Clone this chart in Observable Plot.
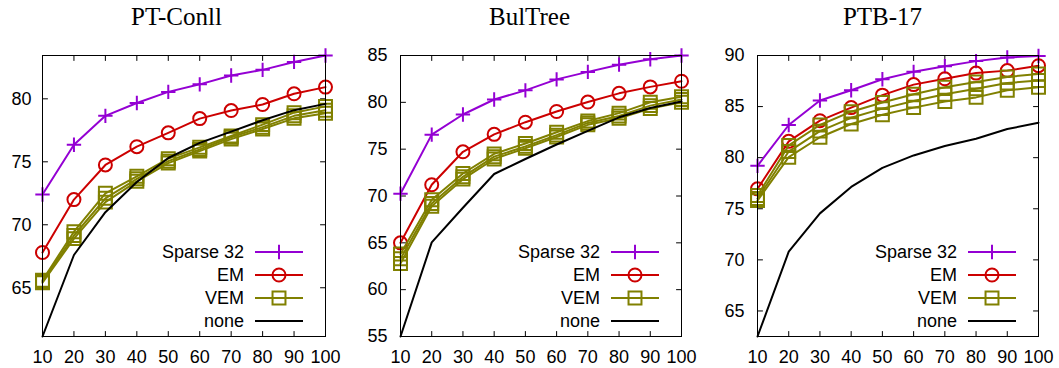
<!DOCTYPE html>
<html><head><meta charset="utf-8">
<script src="https://cdn.jsdelivr.net/npm/d3@7"></script>
<script src="https://cdn.jsdelivr.net/npm/@observablehq/plot@0.6"></script>
<style>
body{margin:0;background:#fff;}
#chart{position:relative;width:1059px;height:368px;overflow:hidden;background:#fff;}
.panel{position:absolute;top:0;width:353px;height:368px;}
.title{position:absolute;top:4px;left:0;width:100%;text-align:center;font-family:"Liberation Serif","Times New Roman",serif;font-size:25px;line-height:25px;color:#000;}
.panel svg{position:absolute;top:40px;left:0;}
</style></head><body><div id="chart"></div>
<script>
// ---- data ----
const xs = [10, 20, 30, 40, 50, 60, 70, 80, 90, 100];
const xTicks = [10, 20, 30, 40, 50, 60, 70, 80, 90, 100];
const seriesNames = ["Sparse 32", "EM", "VEM", "none"];
const titles = ["PT-Conll", "BulTree", "PTB-17"];

// PT-Conll
const ptconllSparse = [72.4, 76.35, 78.65, 79.67, 80.55, 81.15, 81.85, 82.3, 82.93, 83.44];
const ptconllEM     = [67.8, 72.0, 74.75, 76.2, 77.3, 78.43, 79.07, 79.55, 80.4, 80.93];
const ptconllVEM1   = [65.6, 69.45, 72.5, 73.85, 75.25, 76.15, 77.05, 77.95, 78.9, 79.4];
const ptconllVEM2   = [65.5, 69.15, 72.1, 73.65, 75.05, 75.98, 76.95, 77.75, 78.65, 79.1];
const ptconllVEM3   = [65.4, 68.9, 71.8, 73.45, 74.9, 75.85, 76.8, 77.6, 78.45, 78.85];
const ptconllNone   = [61.13, 67.6, 71.0, 73.4, 75.3, 76.5, 77.4, 78.3, 79.1, 79.6];
const ptconllYTicks = [65, 70, 75, 80];
const ptconllYDomain = [61.13, 83.44];

// BulTree
const bultreeSparse = [70.25, 76.55, 78.7, 80.3, 81.28, 82.45, 83.25, 84.02, 84.6, 85.0];
const bultreeEM     = [65.0, 71.2, 74.72, 76.58, 77.88, 79.02, 80.03, 80.96, 81.65, 82.25];
const bultreeVEM1   = [63.8, 69.6, 72.4, 74.5, 75.6, 76.8, 78.0, 78.85, 80.0, 80.6];
const bultreeVEM2   = [63.3, 69.2, 72.05, 74.2, 75.3, 76.5, 77.8, 78.55, 79.65, 80.3];
const bultreeVEM3   = [62.8, 68.9, 71.8, 73.95, 75.1, 76.3, 77.6, 78.3, 79.35, 80.0];
const bultreeNone   = [55.0, 65.05, 68.75, 72.35, 73.95, 75.5, 76.96, 78.4, 79.4, 80.1];
const bultreeYTicks = [55, 60, 65, 70, 75, 80, 85];
const bultreeYDomain = [55, 85];

// PTB-17
const ptbSparse = [79.2, 83.2, 85.6, 86.6, 87.68, 88.4, 88.95, 89.45, 89.8, 89.95];
const ptbEM     = [76.95, 81.6, 83.62, 84.9, 86.12, 87.15, 87.72, 88.28, 88.52, 89.0];
const ptbVEM1   = [76.3, 81.2, 83.2, 84.5, 85.4, 86.2, 86.9, 87.4, 87.9, 88.2];
const ptbVEM2   = [76.0, 80.6, 82.6, 83.9, 84.8, 85.55, 86.2, 86.75, 87.3, 87.56];
const ptbVEM3   = [75.8, 80.05, 82.0, 83.3, 84.2, 84.9, 85.5, 85.9, 86.6, 86.9];
const ptbNone   = [62.5, 70.8, 74.55, 77.14, 79.0, 80.22, 81.15, 81.85, 82.8, 83.42];
const ptbYTicks = [65, 70, 75, 80, 85, 90];
const ptbYDomain = [62.5, 90];

// ---- styles ----
const colors = {"Sparse 32": "#9400d3", "EM": "#cc0000", "VEM": "#808000", "none": "#000000"};
const symbols = {"Sparse 32": "plus", "EM": "circle", "VEM": "square", "none": null};
const radii = {"plus": 4.7, "circle": 6.5, "square": 7.3};

const panels = [
  {title: titles[0], sparse: ptconllSparse, em: ptconllEM, vem: [ptconllVEM1, ptconllVEM2, ptconllVEM3], none: ptconllNone, yTicks: ptconllYTicks, yDomain: ptconllYDomain, ml: 42, mr: 28, pad: 11},
  {title: titles[1], sparse: bultreeSparse, em: bultreeEM, vem: [bultreeVEM1, bultreeVEM2, bultreeVEM3], none: bultreeNone, yTicks: bultreeYTicks, yDomain: bultreeYDomain, ml: 47, mr: 25, pad: 13},
  {title: titles[2], sparse: ptbSparse, em: ptbEM, vem: [ptbVEM1, ptbVEM2, ptbVEM3], none: ptbNone, yTicks: ptbYTicks, yDomain: ptbYDomain, ml: 51, mr: 21, pad: 13}
];

const tickShape = {draw(context, l) { context.moveTo(0, 0); context.lineTo(0, -l); }};
const W = 353, H = 328, MT = 15, MB = 32;

function seriesMarks(values, name) {
  const c = colors[name], s = symbols[name];
  const out = [Plot.line(values, {x: (d, i) => xs[i], y: d => d, stroke: c, strokeWidth: 2})];
  if (s) out.push(Plot.dot(values, {x: (d, i) => xs[i], y: d => d, symbol: s, r: radii[s], stroke: c, strokeWidth: 2, fill: "none"}));
  return out;
}

const chart = document.getElementById("chart");
panels.forEach((p, pi) => {
  const div = document.createElement("div");
  div.className = "panel";
  div.style.left = (pi * 353) + "px";
  const t = document.createElement("div");
  t.className = "title";
  t.textContent = p.title;
  div.appendChild(t);

  const svg = Plot.plot({
    width: W, height: H,
    marginLeft: p.ml, marginRight: p.mr, marginTop: MT, marginBottom: MB,
    style: {fontFamily: "'Liberation Sans', Arial, Helvetica, sans-serif", fontSize: "18px", color: "#000", background: "transparent", overflow: "visible"},
    x: {domain: [10, 100]},
    y: {domain: p.yDomain},
    marks: [
      Plot.axisX(xTicks, {tickSize: 0, tickPadding: 13.5, label: null, fontSize: 18}),
      Plot.axisY(p.yTicks, {tickSize: 0, tickPadding: p.pad, label: null, fontSize: 18}),
      Plot.vector(xTicks, {x: d => d, frameAnchor: "bottom", length: 5, rotate: 0, anchor: "start", shape: tickShape, stroke: "#000", strokeWidth: 1}),
      Plot.vector(xTicks, {x: d => d, frameAnchor: "top", length: 5, rotate: 180, anchor: "start", shape: tickShape, stroke: "#000", strokeWidth: 1}),
      Plot.vector(p.yTicks, {y: d => d, frameAnchor: "left", length: 5, rotate: 90, anchor: "start", shape: tickShape, stroke: "#000", strokeWidth: 1}),
      Plot.vector(p.yTicks, {y: d => d, frameAnchor: "right", length: 5, rotate: -90, anchor: "start", shape: tickShape, stroke: "#000", strokeWidth: 1}),
      ...seriesMarks(p.sparse, "Sparse 32"),
      ...seriesMarks(p.em, "EM"),
      ...p.vem.flatMap(v => seriesMarks(v, "VEM")),
      ...seriesMarks(p.none, "none"),
      Plot.frame({stroke: "#000", strokeWidth: 1})
    ]
  });

  // legend (inside frame, bottom-right)
  const fr = W - p.mr, fb = H - MB;
  const g = d3.select(svg).append("g").attr("class", "legend");
  seriesNames.forEach((name, k) => {
    const y = fb - 84 + k * 23;
    g.append("text").attr("x", fr - 81).attr("y", y).attr("dy", "0.35em")
      .attr("text-anchor", "end").attr("font-size", 18).attr("fill", "#000").text(name);
    g.append("line").attr("x1", fr - 70).attr("x2", fr - 22).attr("y1", y).attr("y2", y)
      .attr("stroke", colors[name]).attr("stroke-width", 2);
    const s = symbols[name];
    if (s) {
      const sym = {plus: d3.symbolPlus, circle: d3.symbolCircle, square: d3.symbolSquare}[s];
      g.append("path").attr("transform", `translate(${fr - 46},${y})`)
        .attr("d", d3.symbol(sym, radii[s] * radii[s] * Math.PI)())
        .attr("fill", "none").attr("stroke", colors[name]).attr("stroke-width", 2);
    }
  });

  div.appendChild(svg);
  chart.appendChild(div);
});
</script>
</body></html>
